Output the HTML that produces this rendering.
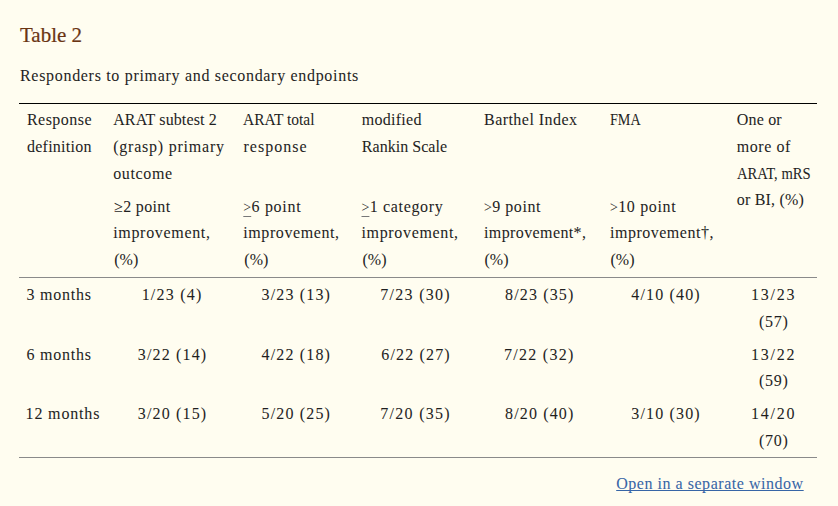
<!DOCTYPE html>
<html><head><meta charset="utf-8">
<style>
html,body{margin:0;padding:0;}
body{width:838px;height:506px;overflow:hidden;background:#fffdf0;font-family:"Liberation Serif",serif;color:#1f1f1f;position:relative;}
.t{position:absolute;white-space:nowrap;font-size:16px;line-height:20px;-webkit-text-stroke:0.05px currentColor;}
.title{position:absolute;left:20px;top:22px;font-size:21px;line-height:26px;color:#6a3413;-webkit-text-stroke:0.2px currentColor;white-space:nowrap;}
.rule{position:absolute;left:19px;width:798px;height:1px;}
u.gt{text-decoration:underline;text-decoration-color:#777;text-underline-offset:4px;-webkit-text-stroke:0;}
.lk{color:#3765a6;text-decoration:underline;text-decoration-skip-ink:none;}
.gt{font-size:14px;letter-spacing:0;padding-right:0.3px;}
</style></head><body>
<div class="title">Table 2</div>
<div class="rule" style="top:103px;background:#000"></div>
<div class="rule" style="top:277px;background:#8a8a8a"></div>
<div class="rule" style="top:457px;background:#8a8a8a"></div>
<div class="t" style="left:20.00px;top:66px;letter-spacing:0.689px">Responders to primary and secondary endpoints</div>
<div class="t" style="left:27.00px;top:110px;letter-spacing:0.453px">Response</div>
<div class="t" style="left:27.00px;top:136.5px;letter-spacing:0.243px">definition</div>
<div class="t" style="left:113.20px;top:110px;letter-spacing:0.121px">ARAT subtest 2</div>
<div class="t" style="left:113.20px;top:136.5px;letter-spacing:0.774px">(grasp) primary</div>
<div class="t" style="left:113.20px;top:163.5px;letter-spacing:0.635px">outcome</div>
<div class="t" style="left:114.00px;top:196.5px;letter-spacing:0.353px">≥2 point</div>
<div class="t" style="left:113.20px;top:223px;letter-spacing:0.681px">improvement,</div>
<div class="t" style="left:114.20px;top:250px;letter-spacing:0.022px">(%)</div>
<div class="t" style="left:243.20px;top:110px;letter-spacing:0.000px;transform:scaleX(0.9669);transform-origin:0.00px 0">ARAT total</div>
<div class="t" style="left:243.40px;top:136.5px;letter-spacing:1.031px">response</div>
<div class="t" style="left:243.30px;top:196.5px;letter-spacing:0.705px"><u class="gt">&gt;</u>6 point</div>
<div class="t" style="left:243.30px;top:223px;letter-spacing:0.581px">improvement,</div>
<div class="t" style="left:244.30px;top:250px;letter-spacing:0.022px">(%)</div>
<div class="t" style="left:361.80px;top:110px;letter-spacing:0.262px">modified</div>
<div class="t" style="left:361.80px;top:136.5px;letter-spacing:0.039px">Rankin Scale</div>
<div class="t" style="left:361.50px;top:196.5px;letter-spacing:0.655px"><u class="gt">&gt;</u>1 category</div>
<div class="t" style="left:361.50px;top:223px;letter-spacing:0.653px">improvement,</div>
<div class="t" style="left:362.50px;top:250px;letter-spacing:0.022px">(%)</div>
<div class="t" style="left:484.00px;top:110px;letter-spacing:0.456px">Barthel Index</div>
<div class="t" style="left:484.00px;top:196.5px;letter-spacing:0.555px"><span class="gt">&gt;</span>9 point</div>
<div class="t" style="left:484.00px;top:223px;letter-spacing:0.391px">improvement*,</div>
<div class="t" style="left:484.50px;top:250px;letter-spacing:0.022px">(%)</div>
<div class="t" style="left:610.00px;top:110px;letter-spacing:0.000px;transform:scaleX(0.8826);transform-origin:0.00px 0">FMA</div>
<div class="t" style="left:610.00px;top:196.5px;letter-spacing:0.647px"><span class="gt">&gt;</span>10 point</div>
<div class="t" style="left:610.00px;top:223px;letter-spacing:0.507px">improvement†,</div>
<div class="t" style="left:610.50px;top:250px;letter-spacing:0.022px">(%)</div>
<div class="t" style="left:736.80px;top:110px;letter-spacing:0.169px">One or</div>
<div class="t" style="left:736.80px;top:136.5px;letter-spacing:0.554px">more of</div>
<div class="t" style="left:736.80px;top:163.5px;letter-spacing:0.000px;transform:scaleX(0.9133);transform-origin:0.00px 0">ARAT, mRS</div>
<div class="t" style="left:736.80px;top:190px;letter-spacing:0.180px">or BI, (%)</div>
<div class="t" style="left:26.60px;top:285px;letter-spacing:0.744px">3 months</div>
<div class="t" style="left:141.65px;top:285px;letter-spacing:1.218px">1/23 (4)</div>
<div class="t" style="left:261.60px;top:285px;letter-spacing:1.153px">3/23 (13)</div>
<div class="t" style="left:380.30px;top:285px;letter-spacing:1.278px">7/23 (30)</div>
<div class="t" style="left:505.00px;top:285px;letter-spacing:1.153px">8/23 (35)</div>
<div class="t" style="left:631.30px;top:285px;letter-spacing:1.153px">4/10 (40)</div>
<div class="t" style="left:750.95px;top:285px;letter-spacing:1.764px">13/23</div>
<div class="t" style="left:759.00px;top:311.7px;letter-spacing:0.691px">(57)</div>
<div class="t" style="left:26.60px;top:344.6px;letter-spacing:0.744px">6 months</div>
<div class="t" style="left:137.80px;top:344.6px;letter-spacing:1.153px">3/22 (14)</div>
<div class="t" style="left:261.60px;top:344.6px;letter-spacing:1.153px">4/22 (18)</div>
<div class="t" style="left:381.30px;top:344.6px;letter-spacing:1.153px">6/22 (27)</div>
<div class="t" style="left:504.00px;top:344.6px;letter-spacing:1.278px">7/22 (32)</div>
<div class="t" style="left:750.95px;top:344.6px;letter-spacing:1.764px">13/22</div>
<div class="t" style="left:759.00px;top:371.3px;letter-spacing:0.691px">(59)</div>
<div class="t" style="left:25.60px;top:404px;letter-spacing:0.839px">12 months</div>
<div class="t" style="left:137.80px;top:404px;letter-spacing:1.153px">3/20 (15)</div>
<div class="t" style="left:261.60px;top:404px;letter-spacing:1.153px">5/20 (25)</div>
<div class="t" style="left:380.30px;top:404px;letter-spacing:1.278px">7/20 (35)</div>
<div class="t" style="left:505.00px;top:404px;letter-spacing:1.153px">8/20 (40)</div>
<div class="t" style="left:631.30px;top:404px;letter-spacing:1.153px">3/10 (30)</div>
<div class="t" style="left:750.95px;top:404px;letter-spacing:1.764px">14/20</div>
<div class="t" style="left:759.00px;top:430.7px;letter-spacing:0.691px">(70)</div>
<div class="t lk" style="left:616.20px;top:474px;letter-spacing:0.533px">Open in a separate window</div>
</body></html>
